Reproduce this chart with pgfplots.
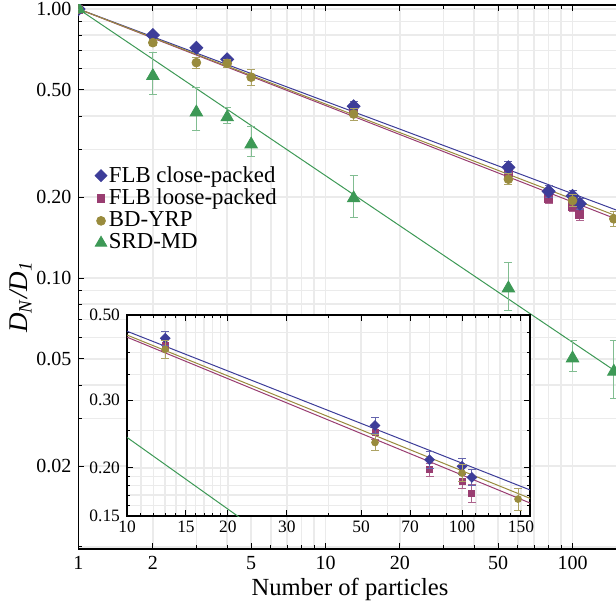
\documentclass[border=0pt]{standalone}
\usepackage{fontspec}
\setmainfont{Liberation Serif}
\usepackage{pgfplots}
\usepackage{pgfplotstable}
\pgfplotsset{compat=1.18}
\definecolor{cBlue}{rgb}{0.24,0.24,0.6}
\definecolor{cPink}{rgb}{0.6,0.24,0.4428}
\definecolor{cGold}{rgb}{0.6,0.547,0.24}
\definecolor{cGreen}{rgb}{0.24,0.6,0.33692}

\pgfplotstableread{
x y e
1 1.0 0
2 0.80 0.015
3 0.718 0.015
4 0.650 0.015
13 0.435 0.018
55 0.258 0.012
80 0.210 0.011
100 0.202 0.010
107 0.189 0.009
}\tblBlue
\pgfplotstableread{
x y e
1 1.0 0
13 0.418 0.014
55 0.247 0.010
80 0.198 0.008
100 0.185 0.008
107 0.172 0.009
}\tblPink
\pgfplotstableread{
x y e
1 1.0 0
2 0.75 0.02
3 0.632 0.03
4 0.628 0.02
5 0.558 0.04
13 0.407 0.021
55 0.233 0.011
100 0.194 0.010
147 0.166 0.011
}\tblGold
\pgfplotstableread{
x y ep em
1 1.0 0 0
2 0.564 0.126 0.082
3 0.413 0.099 0.058
4 0.396 0.034 0.020
5 0.314 0.051 0.030
13 0.198 0.043 0.030
55 0.0916 0.0228 0.016
100 0.0503 0.0085 0.0054
147 0.0449 0.0139 0.0092
}\tblGreen
\pgfplotstableread{
x y
1 1
160 0.1752
}\fitBlue
\pgfplotstableread{
x y
1 1
160 0.1620
}\fitPink
\pgfplotstableread{
x y
1 1
160 0.1666
}\fitGold
\pgfplotstableread{
x y
1 1
160 0.04312
}\fitGreen

\pgfplotsset{
  ebar/.style={error bars/.cd, y dir=both, y explicit,
    error bar style={line width=0.5pt, #1},
    error mark options={rotate=90, mark size=2pt, line width=0.5pt, #1}},
}

\begin{document}
\begin{tikzpicture}
\begin{axis}[
  at={(0pt,0pt)}, anchor=south west,
  scale only axis, width=270pt, height=272pt,
  xmode=log, ymode=log,
  xmin=1, xmax=153.5, ymin=0.00983, ymax=1.035,
  axis x line=box, axis y line=left,
  y axis line style={-}, x axis line style={-},
  axis line style={line width=0.8pt, black},
  xtick={1,2,5,10,20,50,100},
  xticklabels={1,2,5,10,20,50,100},
  minor xtick={3,4,6,7,8,9,30,40,60,70,80,90},
  ytick={0.02,0.05,0.1,0.2,0.5,1},
  yticklabels={0.02,0.05,0.10,0.20,0.50,1.00},
  minor ytick={0.01,0.03,0.04,0.06,0.07,0.08,0.09,0.3,0.4,0.6,0.7,0.8,0.9},
  tick align=inside,
  major tick length=3pt, minor tick length=1.8pt,
  tick style={black, line width=0.5pt},
  grid=both,
  major grid style={gray!16, line width=0.8pt},
  minor grid style={gray!16, line width=0.8pt},
  /pgf/number format/assume math mode=true,
  tick label style={font=\fontsize{10}{12}\selectfont},
  clip marker paths=true,
  legend style={at={(0.03,0.708)}, anchor=north west, draw=none, fill=none,
    inner sep=0pt, row sep=0pt, font=\fontsize{11.4}{13}\selectfont,
    nodes={inner sep=1pt}},
  legend cell align=left,
]
\addlegendimage{only marks, mark=square*, mark size=2.1pt, mark options={rotate=45, draw=cBlue, fill=cBlue}}
\addlegendentry{FLB close-packed}
\addlegendimage{only marks, mark=square*, mark size=1.9pt, mark options={draw=cPink, fill=cPink}}
\addlegendentry{FLB loose-packed}
\addlegendimage{only marks, mark=*, mark size=2.2pt, mark options={draw=cGold, fill=cGold}}
\addlegendentry{BD-YRP}
\addlegendimage{only marks, mark=triangle*, mark size=3.3pt, mark options={draw=cGreen, fill=cGreen}}
\addlegendentry{SRD-MD}

\addplot[forget plot, cBlue, line width=0.5pt] table {\fitBlue};
\addplot[forget plot, cPink, line width=0.5pt] table {\fitPink};
\addplot[forget plot, cGold, line width=0.5pt] table {\fitGold};
\addplot[forget plot, cGreen, line width=0.5pt] table {\fitGreen};

\addplot[forget plot, only marks, mark=square*, mark size=2pt, mark options={draw=cPink, fill=cPink}, ebar={cPink!80}]
  table[x=x, y=y, y error=e] {\tblPink};
\addplot[forget plot, only marks, mark=square*, mark size=2.3pt, mark options={rotate=45, draw=cBlue, fill=cBlue}, ebar={cBlue!80}]
  table[x=x, y=y, y error=e] {\tblBlue};
\addplot[forget plot, only marks, mark=*, mark size=2.2pt, mark options={draw=cGold, fill=cGold}, ebar={cGold!80}]
  table[x=x, y=y, y error=e] {\tblGold};
\addplot[forget plot, only marks, mark=triangle*, mark size=3.6pt, mark options={draw=cGreen, fill=cGreen}, ebar={cGreen!65}]
  table[x=x, y=y, y error plus=ep, y error minus=em] {\tblGreen};
\end{axis}

\begin{axis}[
  at={(24.25pt,16.5pt)}, anchor=south west,
  scale only axis, width=201.5pt, height=100.5pt,
  xmode=log, ymode=log,
  xmin=10, xmax=159.6, ymin=0.15, ymax=0.5,
  axis background/.style={fill=white},
  axis line style={line width=0.8pt, black},
  xtick={10,15,20,30,50,70,100,150},
  xticklabels={10,15,20,30,50,70,100,150},
  minor xtick={11,12,13,14,16,17,18,19,40,60,80,90,110,120,130,140},
  ytick={0.15,0.2,0.3,0.5},
  yticklabels={0.15,0.20,0.30,0.50},
  minor ytick={0.16,0.17,0.18,0.19,0.25,0.35,0.4,0.45},
  tick align=inside,
  major tick length=3pt, minor tick length=1.6pt,
  tick style={black, line width=0.5pt},
  grid=both,
  major grid style={gray!16, line width=0.7pt},
  minor grid style={gray!16, line width=0.7pt},
  /pgf/number format/assume math mode=true,
  tick label style={font=\fontsize{8.7}{10}\selectfont},
  xticklabel style={yshift=1pt},
  clip marker paths=true,
]
\addplot[cBlue, line width=0.5pt] table {\fitBlue};
\addplot[cPink, line width=0.5pt] table {\fitPink};
\addplot[cGold, line width=0.5pt] table {\fitGold};
\addplot[cGreen, line width=0.5pt] table {\fitGreen};
\addplot[only marks, mark=square*, mark size=1.5pt, mark options={draw=cPink, fill=cPink}, ebar={cPink!80}]
  table[x=x, y=y, y error=e] {\tblPink};
\addplot[only marks, mark=square*, mark size=1.7pt, mark options={rotate=45, draw=cBlue, fill=cBlue}, ebar={cBlue!80}]
  table[x=x, y=y, y error=e] {\tblBlue};
\addplot[only marks, mark=*, mark size=1.7pt, mark options={draw=cGold, fill=cGold}, ebar={cGold!80}]
  table[x=x, y=y, y error=e] {\tblGold};
\end{axis}

\node[font=\fontsize{12.3}{14}\selectfont] at (135.75pt,-20pt) {Number of particles};
\node[rotate=90, font=\fontsize{13.5}{15}\selectfont] at (-29pt,126pt) {\textit{D}\textsubscript{\textit{N}}\textit{/D}\textsubscript{\textit{1}}};

\pgfresetboundingbox
\useasboundingbox (-39.25pt,-28pt) rectangle (268.75pt,274.5pt);
\end{tikzpicture}
\end{document}
